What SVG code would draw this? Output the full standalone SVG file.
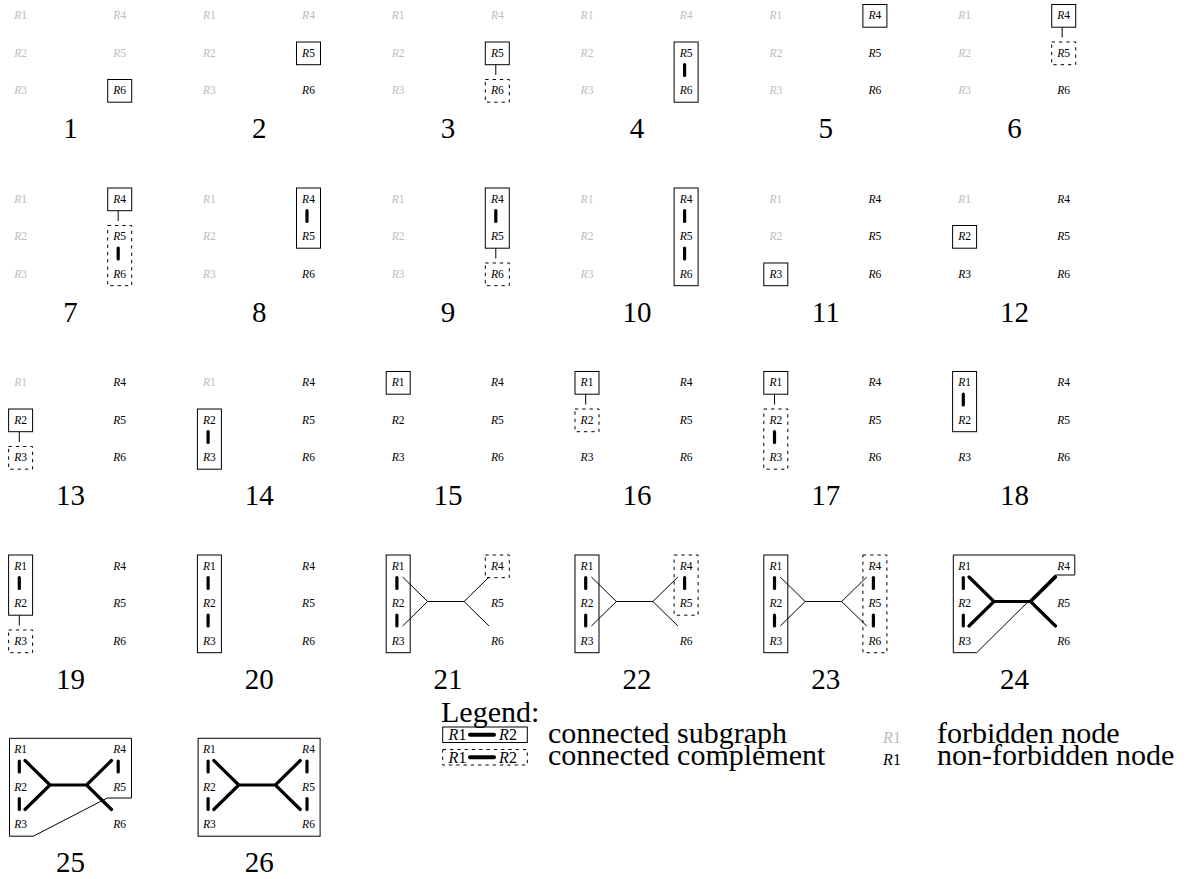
<svg xmlns="http://www.w3.org/2000/svg" width="1197" height="879" viewBox="0 0 1197 879" font-family="'Liberation Serif', 'DejaVu Serif', serif">
<style>
text{font-family:"Liberation Serif","DejaVu Serif","Noto Serif",serif}
.n{font-size:11.5px;text-anchor:middle;fill:#000}
.f{font-size:11.5px;text-anchor:middle;fill:#bcbcbc}
.i{font-style:italic}
.b{fill:none;stroke:#000;stroke-width:1}
.d{fill:none;stroke:#000;stroke-width:1;stroke-dasharray:3.3 4}
.bar{stroke:#000;stroke-width:3.2;stroke-linecap:round}
.t{fill:none;stroke:#000;stroke-width:1}
.k{fill:none;stroke:#000;stroke-width:3.2;stroke-linecap:round;stroke-linejoin:miter}
.num{font-size:29px;text-anchor:middle;fill:#000}
.leg{font-size:30px;fill:#000}
.ln{font-size:16px;text-anchor:middle}
</style>
<rect width="1197" height="879" fill="#fff"/>

<!-- Row 1 -->
<g id="panel-1" transform="translate(0,0)">
<rect class="b" x="107.7" y="79.5" width="24" height="22.7"/>
<text class="f" x="20.6" y="19"><tspan class="i">R</tspan>1</text>
<text class="f" x="20.6" y="56.5"><tspan class="i">R</tspan>2</text>
<text class="f" x="20.6" y="94"><tspan class="i">R</tspan>3</text>
<text class="f" x="119.7" y="19"><tspan class="i">R</tspan>4</text>
<text class="f" x="119.7" y="56.5"><tspan class="i">R</tspan>5</text>
<text class="n" x="119.7" y="94"><tspan class="i">R</tspan>6</text>
<text class="num" x="70.5" y="138">1</text>
</g>

<g id="panel-2" transform="translate(188.8,0)">
<rect class="b" x="107.7" y="42" width="24" height="22.7"/>
<text class="f" x="20.6" y="19"><tspan class="i">R</tspan>1</text>
<text class="f" x="20.6" y="56.5"><tspan class="i">R</tspan>2</text>
<text class="f" x="20.6" y="94"><tspan class="i">R</tspan>3</text>
<text class="f" x="119.7" y="19"><tspan class="i">R</tspan>4</text>
<text class="n" x="119.7" y="56.5"><tspan class="i">R</tspan>5</text>
<text class="n" x="119.7" y="94"><tspan class="i">R</tspan>6</text>
<text class="num" x="70.5" y="138">2</text>
</g>

<g id="panel-3" transform="translate(377.6,0)">
<g class="connectors"><line class="t" x1="118.2" y1="64.7" x2="118.2" y2="75"/></g>
<rect class="b" x="107.7" y="42" width="24" height="22.7"/>
<rect class="d" x="107.7" y="79.5" width="24" height="22.7"/>
<text class="f" x="20.6" y="19"><tspan class="i">R</tspan>1</text>
<text class="f" x="20.6" y="56.5"><tspan class="i">R</tspan>2</text>
<text class="f" x="20.6" y="94"><tspan class="i">R</tspan>3</text>
<text class="f" x="119.7" y="19"><tspan class="i">R</tspan>4</text>
<text class="n" x="119.7" y="56.5"><tspan class="i">R</tspan>5</text>
<text class="n" x="119.7" y="94"><tspan class="i">R</tspan>6</text>
<text class="num" x="70.5" y="138">3</text>
</g>

<g id="panel-4" transform="translate(566.4,0)">
<g class="connectors"><line class="bar" x1="118.2" y1="64.5" x2="118.2" y2="75.5"/></g>
<rect class="b" x="107.7" y="42" width="24" height="60.2"/>
<text class="f" x="20.6" y="19"><tspan class="i">R</tspan>1</text>
<text class="f" x="20.6" y="56.5"><tspan class="i">R</tspan>2</text>
<text class="f" x="20.6" y="94"><tspan class="i">R</tspan>3</text>
<text class="f" x="119.7" y="19"><tspan class="i">R</tspan>4</text>
<text class="n" x="119.7" y="56.5"><tspan class="i">R</tspan>5</text>
<text class="n" x="119.7" y="94"><tspan class="i">R</tspan>6</text>
<text class="num" x="70.5" y="138">4</text>
</g>

<g id="panel-5" transform="translate(755.2,0)">
<rect class="b" x="107.7" y="4.5" width="24" height="22.7"/>
<text class="f" x="20.6" y="19"><tspan class="i">R</tspan>1</text>
<text class="f" x="20.6" y="56.5"><tspan class="i">R</tspan>2</text>
<text class="f" x="20.6" y="94"><tspan class="i">R</tspan>3</text>
<text class="n" x="119.7" y="19"><tspan class="i">R</tspan>4</text>
<text class="n" x="119.7" y="56.5"><tspan class="i">R</tspan>5</text>
<text class="n" x="119.7" y="94"><tspan class="i">R</tspan>6</text>
<text class="num" x="70.5" y="138">5</text>
</g>

<g id="panel-6" transform="translate(944,0)">
<g class="connectors"><line class="t" x1="118.2" y1="27.2" x2="118.2" y2="37.5"/></g>
<rect class="b" x="107.7" y="4.5" width="24" height="22.7"/>
<rect class="d" x="107.7" y="42" width="24" height="22.7"/>
<text class="f" x="20.6" y="19"><tspan class="i">R</tspan>1</text>
<text class="f" x="20.6" y="56.5"><tspan class="i">R</tspan>2</text>
<text class="f" x="20.6" y="94"><tspan class="i">R</tspan>3</text>
<text class="n" x="119.7" y="19"><tspan class="i">R</tspan>4</text>
<text class="n" x="119.7" y="56.5"><tspan class="i">R</tspan>5</text>
<text class="n" x="119.7" y="94"><tspan class="i">R</tspan>6</text>
<text class="num" x="70.5" y="138">6</text>
</g>

<!-- Row 2 -->
<g id="panel-7" transform="translate(0,183.5)">
<g class="connectors"><line class="t" x1="118.2" y1="27.2" x2="118.2" y2="37.5"/><line class="bar" x1="118.2" y1="64.5" x2="118.2" y2="75.5"/></g>
<rect class="b" x="107.7" y="4.5" width="24" height="22.7"/>
<rect class="d" x="107.7" y="42" width="24" height="60.2"/>
<text class="f" x="20.6" y="19"><tspan class="i">R</tspan>1</text>
<text class="f" x="20.6" y="56.5"><tspan class="i">R</tspan>2</text>
<text class="f" x="20.6" y="94"><tspan class="i">R</tspan>3</text>
<text class="n" x="119.7" y="19"><tspan class="i">R</tspan>4</text>
<text class="n" x="119.7" y="56.5"><tspan class="i">R</tspan>5</text>
<text class="n" x="119.7" y="94"><tspan class="i">R</tspan>6</text>
<text class="num" x="70.5" y="138">7</text>
</g>

<g id="panel-8" transform="translate(188.8,183.5)">
<g class="connectors"><line class="bar" x1="118.2" y1="27" x2="118.2" y2="38"/></g>
<rect class="b" x="107.7" y="4.5" width="24" height="60.2"/>
<text class="f" x="20.6" y="19"><tspan class="i">R</tspan>1</text>
<text class="f" x="20.6" y="56.5"><tspan class="i">R</tspan>2</text>
<text class="f" x="20.6" y="94"><tspan class="i">R</tspan>3</text>
<text class="n" x="119.7" y="19"><tspan class="i">R</tspan>4</text>
<text class="n" x="119.7" y="56.5"><tspan class="i">R</tspan>5</text>
<text class="n" x="119.7" y="94"><tspan class="i">R</tspan>6</text>
<text class="num" x="70.5" y="138">8</text>
</g>

<g id="panel-9" transform="translate(377.6,183.5)">
<g class="connectors"><line class="bar" x1="118.2" y1="27" x2="118.2" y2="38"/><line class="t" x1="118.2" y1="64.7" x2="118.2" y2="75"/></g>
<rect class="b" x="107.7" y="4.5" width="24" height="60.2"/>
<rect class="d" x="107.7" y="79.5" width="24" height="22.7"/>
<text class="f" x="20.6" y="19"><tspan class="i">R</tspan>1</text>
<text class="f" x="20.6" y="56.5"><tspan class="i">R</tspan>2</text>
<text class="f" x="20.6" y="94"><tspan class="i">R</tspan>3</text>
<text class="n" x="119.7" y="19"><tspan class="i">R</tspan>4</text>
<text class="n" x="119.7" y="56.5"><tspan class="i">R</tspan>5</text>
<text class="n" x="119.7" y="94"><tspan class="i">R</tspan>6</text>
<text class="num" x="70.5" y="138">9</text>
</g>

<g id="panel-10" transform="translate(566.4,183.5)">
<g class="connectors"><line class="bar" x1="118.2" y1="27" x2="118.2" y2="38"/><line class="bar" x1="118.2" y1="64.5" x2="118.2" y2="75.5"/></g>
<rect class="b" x="107.7" y="4.5" width="24" height="97.7"/>
<text class="f" x="20.6" y="19"><tspan class="i">R</tspan>1</text>
<text class="f" x="20.6" y="56.5"><tspan class="i">R</tspan>2</text>
<text class="f" x="20.6" y="94"><tspan class="i">R</tspan>3</text>
<text class="n" x="119.7" y="19"><tspan class="i">R</tspan>4</text>
<text class="n" x="119.7" y="56.5"><tspan class="i">R</tspan>5</text>
<text class="n" x="119.7" y="94"><tspan class="i">R</tspan>6</text>
<text class="num" x="70.5" y="138">10</text>
</g>

<g id="panel-11" transform="translate(755.2,183.5)">
<rect class="b" x="8.6" y="79.5" width="24" height="22.7"/>
<text class="f" x="20.6" y="19"><tspan class="i">R</tspan>1</text>
<text class="f" x="20.6" y="56.5"><tspan class="i">R</tspan>2</text>
<text class="n" x="20.6" y="94"><tspan class="i">R</tspan>3</text>
<text class="n" x="119.7" y="19"><tspan class="i">R</tspan>4</text>
<text class="n" x="119.7" y="56.5"><tspan class="i">R</tspan>5</text>
<text class="n" x="119.7" y="94"><tspan class="i">R</tspan>6</text>
<text class="num" x="70.5" y="138">11</text>
</g>

<g id="panel-12" transform="translate(944,183.5)">
<rect class="b" x="8.6" y="42" width="24" height="22.7"/>
<text class="f" x="20.6" y="19"><tspan class="i">R</tspan>1</text>
<text class="n" x="20.6" y="56.5"><tspan class="i">R</tspan>2</text>
<text class="n" x="20.6" y="94"><tspan class="i">R</tspan>3</text>
<text class="n" x="119.7" y="19"><tspan class="i">R</tspan>4</text>
<text class="n" x="119.7" y="56.5"><tspan class="i">R</tspan>5</text>
<text class="n" x="119.7" y="94"><tspan class="i">R</tspan>6</text>
<text class="num" x="70.5" y="138">12</text>
</g>

<!-- Row 3 -->
<g id="panel-13" transform="translate(0,367)">
<g class="connectors"><line class="t" x1="19.3" y1="64.7" x2="19.3" y2="75"/></g>
<rect class="b" x="8.6" y="42" width="24" height="22.7"/>
<rect class="d" x="8.6" y="79.5" width="24" height="22.7"/>
<text class="f" x="20.6" y="19"><tspan class="i">R</tspan>1</text>
<text class="n" x="20.6" y="56.5"><tspan class="i">R</tspan>2</text>
<text class="n" x="20.6" y="94"><tspan class="i">R</tspan>3</text>
<text class="n" x="119.7" y="19"><tspan class="i">R</tspan>4</text>
<text class="n" x="119.7" y="56.5"><tspan class="i">R</tspan>5</text>
<text class="n" x="119.7" y="94"><tspan class="i">R</tspan>6</text>
<text class="num" x="70.5" y="138">13</text>
</g>

<g id="panel-14" transform="translate(188.8,367)">
<g class="connectors"><line class="bar" x1="19.3" y1="64.5" x2="19.3" y2="75.5"/></g>
<rect class="b" x="8.6" y="42" width="24" height="60.2"/>
<text class="f" x="20.6" y="19"><tspan class="i">R</tspan>1</text>
<text class="n" x="20.6" y="56.5"><tspan class="i">R</tspan>2</text>
<text class="n" x="20.6" y="94"><tspan class="i">R</tspan>3</text>
<text class="n" x="119.7" y="19"><tspan class="i">R</tspan>4</text>
<text class="n" x="119.7" y="56.5"><tspan class="i">R</tspan>5</text>
<text class="n" x="119.7" y="94"><tspan class="i">R</tspan>6</text>
<text class="num" x="70.5" y="138">14</text>
</g>

<g id="panel-15" transform="translate(377.6,367)">
<rect class="b" x="8.6" y="4.5" width="24" height="22.7"/>
<text class="n" x="20.6" y="19"><tspan class="i">R</tspan>1</text>
<text class="n" x="20.6" y="56.5"><tspan class="i">R</tspan>2</text>
<text class="n" x="20.6" y="94"><tspan class="i">R</tspan>3</text>
<text class="n" x="119.7" y="19"><tspan class="i">R</tspan>4</text>
<text class="n" x="119.7" y="56.5"><tspan class="i">R</tspan>5</text>
<text class="n" x="119.7" y="94"><tspan class="i">R</tspan>6</text>
<text class="num" x="70.5" y="138">15</text>
</g>

<g id="panel-16" transform="translate(566.4,367)">
<g class="connectors"><line class="t" x1="19.3" y1="27.2" x2="19.3" y2="37.5"/></g>
<rect class="b" x="8.6" y="4.5" width="24" height="22.7"/>
<rect class="d" x="8.6" y="42" width="24" height="22.7"/>
<text class="n" x="20.6" y="19"><tspan class="i">R</tspan>1</text>
<text class="n" x="20.6" y="56.5"><tspan class="i">R</tspan>2</text>
<text class="n" x="20.6" y="94"><tspan class="i">R</tspan>3</text>
<text class="n" x="119.7" y="19"><tspan class="i">R</tspan>4</text>
<text class="n" x="119.7" y="56.5"><tspan class="i">R</tspan>5</text>
<text class="n" x="119.7" y="94"><tspan class="i">R</tspan>6</text>
<text class="num" x="70.5" y="138">16</text>
</g>

<g id="panel-17" transform="translate(755.2,367)">
<g class="connectors"><line class="t" x1="19.3" y1="27.2" x2="19.3" y2="37.5"/><line class="bar" x1="19.3" y1="64.5" x2="19.3" y2="75.5"/></g>
<rect class="b" x="8.6" y="4.5" width="24" height="22.7"/>
<rect class="d" x="8.6" y="42" width="24" height="60.2"/>
<text class="n" x="20.6" y="19"><tspan class="i">R</tspan>1</text>
<text class="n" x="20.6" y="56.5"><tspan class="i">R</tspan>2</text>
<text class="n" x="20.6" y="94"><tspan class="i">R</tspan>3</text>
<text class="n" x="119.7" y="19"><tspan class="i">R</tspan>4</text>
<text class="n" x="119.7" y="56.5"><tspan class="i">R</tspan>5</text>
<text class="n" x="119.7" y="94"><tspan class="i">R</tspan>6</text>
<text class="num" x="70.5" y="138">17</text>
</g>

<g id="panel-18" transform="translate(944,367)">
<g class="connectors"><line class="bar" x1="19.3" y1="27" x2="19.3" y2="38"/></g>
<rect class="b" x="8.6" y="4.5" width="24" height="60.2"/>
<text class="n" x="20.6" y="19"><tspan class="i">R</tspan>1</text>
<text class="n" x="20.6" y="56.5"><tspan class="i">R</tspan>2</text>
<text class="n" x="20.6" y="94"><tspan class="i">R</tspan>3</text>
<text class="n" x="119.7" y="19"><tspan class="i">R</tspan>4</text>
<text class="n" x="119.7" y="56.5"><tspan class="i">R</tspan>5</text>
<text class="n" x="119.7" y="94"><tspan class="i">R</tspan>6</text>
<text class="num" x="70.5" y="138">18</text>
</g>

<!-- Row 4 -->
<g id="panel-19" transform="translate(0,550.5)">
<g class="connectors"><line class="bar" x1="19.3" y1="27" x2="19.3" y2="38"/><line class="t" x1="19.3" y1="64.7" x2="19.3" y2="75"/></g>
<rect class="b" x="8.6" y="4.5" width="24" height="60.2"/>
<rect class="d" x="8.6" y="79.5" width="24" height="22.7"/>
<text class="n" x="20.6" y="19"><tspan class="i">R</tspan>1</text>
<text class="n" x="20.6" y="56.5"><tspan class="i">R</tspan>2</text>
<text class="n" x="20.6" y="94"><tspan class="i">R</tspan>3</text>
<text class="n" x="119.7" y="19"><tspan class="i">R</tspan>4</text>
<text class="n" x="119.7" y="56.5"><tspan class="i">R</tspan>5</text>
<text class="n" x="119.7" y="94"><tspan class="i">R</tspan>6</text>
<text class="num" x="70.5" y="138">19</text>
</g>

<g id="panel-20" transform="translate(188.8,550.5)">
<g class="connectors"><line class="bar" x1="19.3" y1="27" x2="19.3" y2="38"/><line class="bar" x1="19.3" y1="64.5" x2="19.3" y2="75.5"/></g>
<rect class="b" x="8.6" y="4.5" width="24" height="97.7"/>
<text class="n" x="20.6" y="19"><tspan class="i">R</tspan>1</text>
<text class="n" x="20.6" y="56.5"><tspan class="i">R</tspan>2</text>
<text class="n" x="20.6" y="94"><tspan class="i">R</tspan>3</text>
<text class="n" x="119.7" y="19"><tspan class="i">R</tspan>4</text>
<text class="n" x="119.7" y="56.5"><tspan class="i">R</tspan>5</text>
<text class="n" x="119.7" y="94"><tspan class="i">R</tspan>6</text>
<text class="num" x="70.5" y="138">20</text>
</g>

<g id="panel-21" transform="translate(377.6,550.5)">
<g class="connectors">
<line class="bar" x1="19.3" y1="27" x2="19.3" y2="38"/><line class="bar" x1="19.3" y1="64.5" x2="19.3" y2="75.5"/>
<path class="t" d="M25,26.5 L50,51 L25,75.5 M50,51 H86.5 M111.5,26.5 L86.5,51 L111.5,75.5"/>
</g>
<rect class="b" x="8.6" y="4.5" width="24" height="97.7"/>
<rect class="d" x="107.7" y="4.5" width="24" height="22.7"/>
<text class="n" x="20.6" y="19"><tspan class="i">R</tspan>1</text>
<text class="n" x="20.6" y="56.5"><tspan class="i">R</tspan>2</text>
<text class="n" x="20.6" y="94"><tspan class="i">R</tspan>3</text>
<text class="n" x="119.7" y="19"><tspan class="i">R</tspan>4</text>
<text class="n" x="119.7" y="56.5"><tspan class="i">R</tspan>5</text>
<text class="n" x="119.7" y="94"><tspan class="i">R</tspan>6</text>
<text class="num" x="70.5" y="138">21</text>
</g>

<g id="panel-22" transform="translate(566.4,550.5)">
<g class="connectors">
<line class="bar" x1="19.3" y1="27" x2="19.3" y2="38"/><line class="bar" x1="19.3" y1="64.5" x2="19.3" y2="75.5"/>
<line class="bar" x1="118.2" y1="27" x2="118.2" y2="38"/>
<path class="t" d="M25,26.5 L50,51 L25,75.5 M50,51 H86.5 M111.5,26.5 L86.5,51 L111.5,75.5"/>
</g>
<rect class="b" x="8.6" y="4.5" width="24" height="97.7"/>
<rect class="d" x="107.7" y="4.5" width="24" height="60.2"/>
<text class="n" x="20.6" y="19"><tspan class="i">R</tspan>1</text>
<text class="n" x="20.6" y="56.5"><tspan class="i">R</tspan>2</text>
<text class="n" x="20.6" y="94"><tspan class="i">R</tspan>3</text>
<text class="n" x="119.7" y="19"><tspan class="i">R</tspan>4</text>
<text class="n" x="119.7" y="56.5"><tspan class="i">R</tspan>5</text>
<text class="n" x="119.7" y="94"><tspan class="i">R</tspan>6</text>
<text class="num" x="70.5" y="138">22</text>
</g>

<g id="panel-23" transform="translate(755.2,550.5)">
<g class="connectors">
<line class="bar" x1="19.3" y1="27" x2="19.3" y2="38"/><line class="bar" x1="19.3" y1="64.5" x2="19.3" y2="75.5"/>
<line class="bar" x1="118.2" y1="27" x2="118.2" y2="38"/><line class="bar" x1="118.2" y1="64.5" x2="118.2" y2="75.5"/>
<path class="t" d="M25,26.5 L50,51 L25,75.5 M50,51 H86.5 M111.5,26.5 L86.5,51 L111.5,75.5"/>
</g>
<rect class="b" x="8.6" y="4.5" width="24" height="97.7"/>
<rect class="d" x="107.7" y="4.5" width="24" height="97.7"/>
<text class="n" x="20.6" y="19"><tspan class="i">R</tspan>1</text>
<text class="n" x="20.6" y="56.5"><tspan class="i">R</tspan>2</text>
<text class="n" x="20.6" y="94"><tspan class="i">R</tspan>3</text>
<text class="n" x="119.7" y="19"><tspan class="i">R</tspan>4</text>
<text class="n" x="119.7" y="56.5"><tspan class="i">R</tspan>5</text>
<text class="n" x="119.7" y="94"><tspan class="i">R</tspan>6</text>
<text class="num" x="70.5" y="138">23</text>
</g>

<g id="panel-24" transform="translate(944,550.5)">
<g class="connectors">
<line class="bar" x1="19.3" y1="27" x2="19.3" y2="38"/><line class="bar" x1="19.3" y1="64.5" x2="19.3" y2="75.5"/>
<path class="k" d="M25,26.5 L50,51 L25,75.5 M50,51 H86.5 M111.5,26.5 L86.5,51 L111.5,75.5"/>
</g>
<path class="b" d="M9.3,4.5 H130.8 V24.5 H111 L32.7,102.2 H9.3 Z"/>
<text class="n" x="20.6" y="19"><tspan class="i">R</tspan>1</text>
<text class="n" x="20.6" y="56.5"><tspan class="i">R</tspan>2</text>
<text class="n" x="20.6" y="94"><tspan class="i">R</tspan>3</text>
<text class="n" x="119.7" y="19"><tspan class="i">R</tspan>4</text>
<text class="n" x="119.7" y="56.5"><tspan class="i">R</tspan>5</text>
<text class="n" x="119.7" y="94"><tspan class="i">R</tspan>6</text>
<text class="num" x="70.5" y="138">24</text>
</g>

<!-- Row 5 -->
<g id="panel-25" transform="translate(0,734)">
<g class="connectors">
<line class="bar" x1="19.3" y1="27" x2="19.3" y2="38"/><line class="bar" x1="19.3" y1="64.5" x2="19.3" y2="75.5"/>
<line class="bar" x1="118.2" y1="27" x2="118.2" y2="38"/>
<path class="k" d="M25,26.5 L50,51 L25,75.5 M50,51 H86.5 M111.5,26.5 L86.5,51 L111.5,75.5"/>
</g>
<path class="b" d="M9.5,4.3 H131.5 V64 H107.3 L33.3,102.2 H9.5 Z"/>
<text class="n" x="20.6" y="19"><tspan class="i">R</tspan>1</text>
<text class="n" x="20.6" y="56.5"><tspan class="i">R</tspan>2</text>
<text class="n" x="20.6" y="94"><tspan class="i">R</tspan>3</text>
<text class="n" x="119.7" y="19"><tspan class="i">R</tspan>4</text>
<text class="n" x="119.7" y="56.5"><tspan class="i">R</tspan>5</text>
<text class="n" x="119.7" y="94"><tspan class="i">R</tspan>6</text>
<text class="num" x="70.5" y="138">25</text>
</g>

<g id="panel-26" transform="translate(188.8,734)">
<g class="connectors">
<line class="bar" x1="19.3" y1="27" x2="19.3" y2="38"/><line class="bar" x1="19.3" y1="64.5" x2="19.3" y2="75.5"/>
<line class="bar" x1="118.2" y1="27" x2="118.2" y2="38"/><line class="bar" x1="118.2" y1="64.5" x2="118.2" y2="75.5"/>
<path class="k" d="M25,26.5 L50,51 L25,75.5 M50,51 H86.5 M111.5,26.5 L86.5,51 L111.5,75.5"/>
</g>
<rect class="b" x="9.3" y="4.3" width="122" height="97.9"/>
<text class="n" x="20.6" y="19"><tspan class="i">R</tspan>1</text>
<text class="n" x="20.6" y="56.5"><tspan class="i">R</tspan>2</text>
<text class="n" x="20.6" y="94"><tspan class="i">R</tspan>3</text>
<text class="n" x="119.7" y="19"><tspan class="i">R</tspan>4</text>
<text class="n" x="119.7" y="56.5"><tspan class="i">R</tspan>5</text>
<text class="n" x="119.7" y="94"><tspan class="i">R</tspan>6</text>
<text class="num" x="70.5" y="138">26</text>
</g>

<!-- Legend -->
<g id="legend">
<text class="leg" x="441" y="722">Legend:</text>
<g id="legend-subgraph">
<rect class="b" x="442.7" y="727" width="84.6" height="15.5"/>
<line x1="470" y1="734.8" x2="494" y2="734.8" stroke="#000" stroke-width="4" stroke-linecap="round"/>
<text class="ln" x="457.5" y="740"><tspan class="i">R</tspan>1</text>
<text class="ln" x="508" y="740"><tspan class="i">R</tspan>2</text>
<text class="leg" x="548" y="742.5">connected subgraph</text>
</g>
<g id="legend-complement">
<rect class="d" x="442.7" y="749.5" width="84.6" height="15.5"/>
<line x1="470" y1="757.3" x2="494" y2="757.3" stroke="#000" stroke-width="4" stroke-linecap="round"/>
<text class="ln" x="457.5" y="762.5"><tspan class="i">R</tspan>1</text>
<text class="ln" x="508" y="762.5"><tspan class="i">R</tspan>2</text>
<text class="leg" x="548" y="765">connected complement</text>
</g>
<g id="legend-forbidden">
<text class="ln" x="892" y="742.5" fill="#bcbcbc"><tspan class="i">R</tspan>1</text>
<text class="leg" x="937" y="742.5">forbidden node</text>
</g>
<g id="legend-nonforbidden">
<text class="ln" x="892" y="765" fill="#000"><tspan class="i">R</tspan>1</text>
<text class="leg" x="937" y="765">non-forbidden node</text>
</g>
</g>
</svg>
